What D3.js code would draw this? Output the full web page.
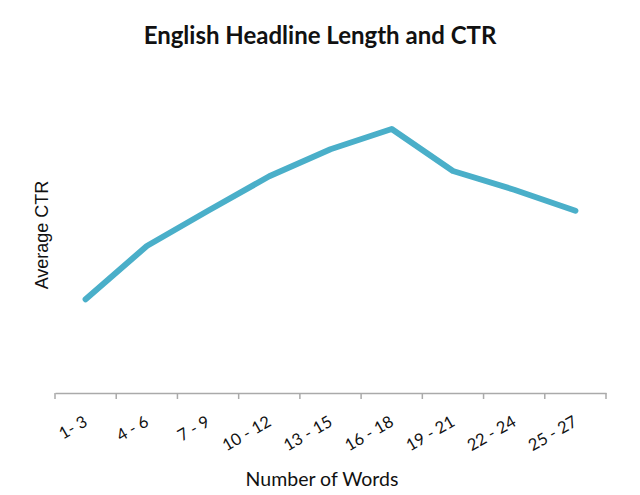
<!DOCTYPE html>
<html><head><meta charset="utf-8">
<script src="https://cdn.jsdelivr.net/npm/d3@7"></script>
<style>body{margin:0;background:#fff}</style>
</head><body>
<svg id="c" width="640" height="495"></svg>
<script>
const categories = ["1- 3","4 - 6","7 - 9","10 - 12","13 - 15","16 - 18","19 - 21","22 - 24","25 - 27"];
const ctrValues = [1.25, 1.96, 2.43, 2.89, 3.25, 3.52, 2.96, 2.71, 2.43];

(function () {
const svg = d3.select("#c");
const mLeft = 55, mRight = 606, mBottom = 393, mTop = 93;

const x = d3.scaleBand().domain(categories).range([mLeft, mRight]);
const y = d3.scaleLinear().domain([0, 4]).range([mBottom, mTop]);

svg.append("text").attr("x", 320).attr("y", 44).attr("text-anchor", "middle")
  .style("font-family", "Lato, 'Open Sans', sans-serif").style("font-weight", "bold")
  .style("font-size", "24px").attr("fill", "#111").text("English Headline Length and CTR");

const ax = svg.append("g").attr("transform", `translate(0,${mBottom})`)
  .call(d3.axisBottom(x).tickSizeInner(0).tickSizeOuter(0).tickPadding(0));
ax.select(".domain").attr("stroke", "#aaa").attr("stroke-width", 1.5);
ax.selectAll(".tick line").remove();
const bounds = categories.map(c => x(c)).concat([x(categories[categories.length-1]) + x.bandwidth()]);
svg.append("g").selectAll("line").data(bounds).join("line")
  .attr("x1", d => d).attr("x2", d => d).attr("y1", mBottom).attr("y2", mBottom + 6)
  .attr("stroke", "#aaa").attr("stroke-width", 1.5);
ax.selectAll(".tick text")
  .attr("text-anchor", "end")
  .attr("dy", 0).attr("y", 0)
  .attr("transform", "translate(3,32) rotate(-30)")
  .style("font-family", "Lato, 'Open Sans', sans-serif").style("font-size", "16.5px").attr("fill", "#111");

const line = d3.line().x((d, i) => x(categories[i]) + x.bandwidth()/2).y(d => y(d));
svg.append("path").datum(ctrValues).attr("d", line)
  .attr("fill", "none").attr("stroke", "#4AAFC9").attr("stroke-width", 6)
  .attr("stroke-linecap", "round").attr("stroke-linejoin", "round");

svg.append("text").attr("transform", "translate(48,235) rotate(-90)").attr("text-anchor", "middle")
  .style("font-family", "'Liberation Sans', Arial, sans-serif").style("font-size", "18px").attr("fill", "#111")
  .text("Average CTR");

svg.append("text").attr("x", 322).attr("y", 486).attr("text-anchor", "middle")
  .style("font-family", "Lato, 'Open Sans', sans-serif").style("font-size", "19.5px").attr("fill", "#111")
  .text("Number of Words");
})();
</script>
</body></html>
